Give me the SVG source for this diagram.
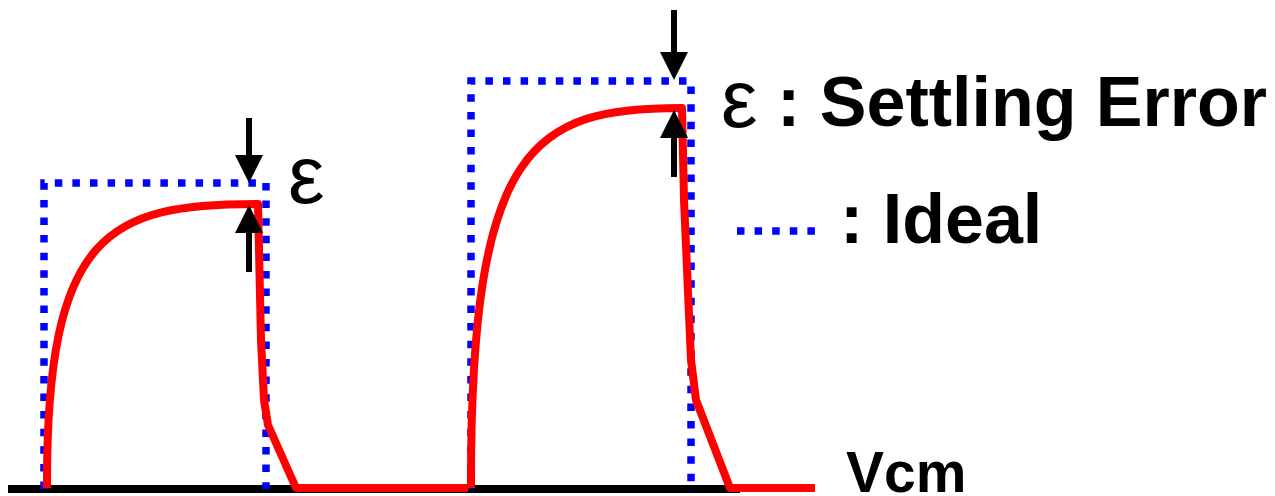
<svg xmlns="http://www.w3.org/2000/svg" width="1275" height="496" viewBox="0 0 1275 496">
  <style>
    .axis { stroke: #000; stroke-width: 8; fill: none; }
    .ideal { stroke: #0000FF; stroke-width: 7.5; stroke-dasharray: 7.5 10.1; fill: none; }
    .real { stroke: #FF0000; stroke-width: 8; fill: none; stroke-linejoin: round; }
    .arrow { stroke: #000; stroke-width: 6; fill: none; }
    .lbl { font-family: "Liberation Sans", Arial, sans-serif; font-size: 70px; fill: #000; }
    .bold { font-weight: bold; }
    .eps { font-size: 82px; }
  </style>
  <defs>
    <marker id="ah" markerUnits="userSpaceOnUse" markerWidth="28" markerHeight="28" refX="0" refY="14" orient="auto" viewBox="0 0 28 28">
      <path d="M0,0 L28,14 L0,28 Z" fill="#000"/>
    </marker>
  </defs>

  <g id="axis">
    <line class="axis" x1="8" y1="489" x2="740" y2="489"/>
  </g>

  <g id="ideal">
    <path class="ideal" d="M44,489 L44,183 L266,183 L266,489"/>
    <path class="ideal" d="M471,489 L471,81 L691,81 L691,489"/>
  </g>

  <g id="actual">
    <path class="real" d="M47,488 C46,230 110,204 258,204 L261,340 L264,400 L268,425 L296,488 L468,488"/>
    <path class="real" d="M471,488 C470,143 534,108 682,108 L684,200 L691,360 L696,400 L730,488 L815,488"/>
  </g>

  <g id="connectors">
    <line class="arrow" x1="249" y1="118" x2="249" y2="155" marker-end="url(#ah)"/>
    <line class="arrow" x1="249" y1="272" x2="249" y2="233" marker-end="url(#ah)"/>
    <line class="arrow" x1="674" y1="10" x2="674" y2="52" marker-end="url(#ah)"/>
    <line class="arrow" x1="674" y1="177" x2="674" y2="138" marker-end="url(#ah)"/>
  </g>

  <g id="label-eps">
    <text class="lbl eps" x="288" y="203">ε</text>
  </g>
  <g id="legend-error">
    <text class="lbl eps" x="721" y="127">ε</text>
    <text class="lbl bold" x="777" y="126">: Settling Error</text>
  </g>
  <g id="legend-ideal">
    <path class="ideal" d="M737,231 L816,231"/>
    <text class="lbl bold" x="840" y="243">: Ideal</text>
  </g>
  <g id="label-vcm">
    <text class="lbl bold" x="846" y="492" style="font-size:57px">Vcm</text>
  </g>
</svg>
